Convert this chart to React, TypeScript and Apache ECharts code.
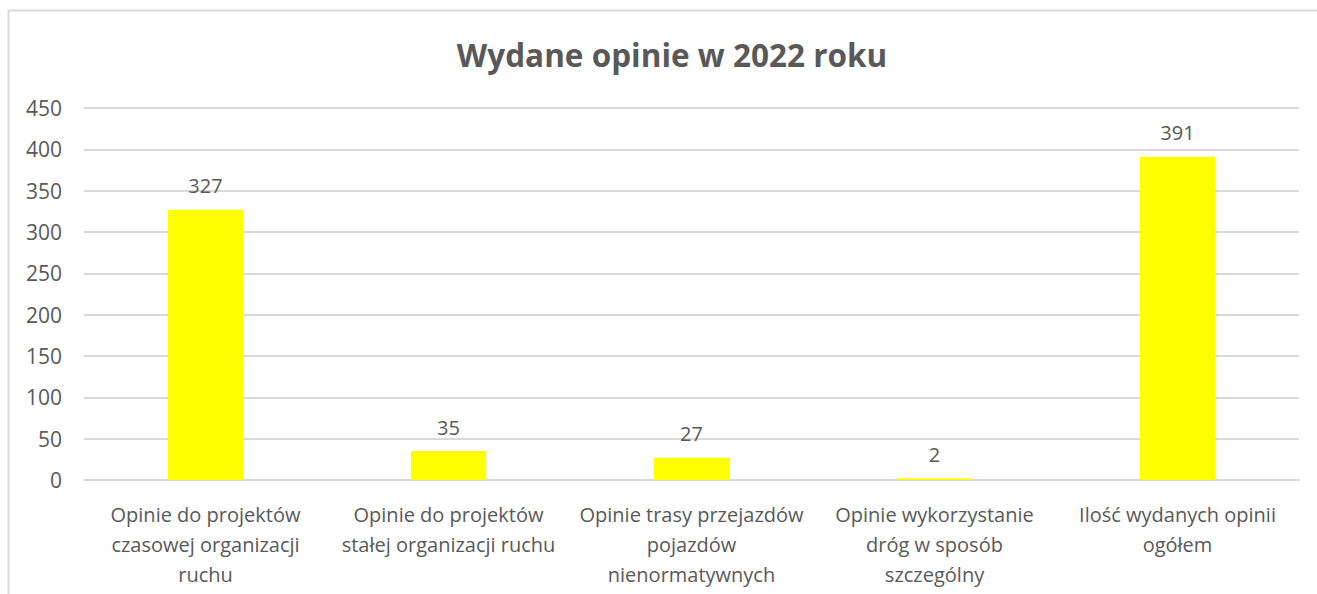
import React, { useEffect, useRef } from "react";
import * as echarts from "echarts";

const categories = [
  "Opinie do projektów\nczasowej organizacji\nruchu",
  "Opinie do projektów\nstałej organizacji ruchu",
  "Opinie trasy przejazdów\npojazdów\nnienormatywnych",
  "Opinie wykorzystanie\ndróg w sposób\nszczególny",
  "Ilość wydanych opinii\nogółem",
];
const values = [327, 35, 27, 2, 391];
const titleText = "Wydane opinie w 2022 roku";

const FONT = "'Open Sans', sans-serif";
const TEXT = "#595959";

export default function App() {
  const ref = useRef<HTMLDivElement>(null);
  useEffect(() => {
    if (!ref.current) return;
    const chart = echarts.init(ref.current, null, { renderer: "svg" });
    chart.setOption({
      animation: false,
      textStyle: { fontFamily: FONT },
      title: {
        text: titleText,
        left: 667,
        top: 33,
        textAlign: "center",
        textStyle: { fontFamily: FONT, fontSize: 31.5, fontWeight: "bold", color: TEXT },
      },
      graphic: [
        {
          type: "rect",
          silent: true,
          shape: { x: 8.5, y: 10.5, width: 1400, height: 700 },
          style: { fill: "none", stroke: "#d9d9d9", lineWidth: 2 },
        },
      ],
      grid: { left: 84, right: 18, top: 108, bottom: 114, containLabel: false },
      xAxis: {
        type: "category",
        data: categories,
        axisLine: { show: true, lineStyle: { color: "#d9d9d9", width: 2 } },
        axisTick: { show: false },
        axisLabel: {
          interval: 0,
          color: TEXT,
          fontFamily: FONT,
          fontSize: 20,
          lineHeight: 30,
          margin: 19,
        },
      },
      yAxis: {
        type: "value",
        min: 0,
        max: 450,
        interval: 50,
        axisLine: { show: false },
        axisTick: { show: false },
        splitLine: { lineStyle: { color: "#d9d9d9", width: 2 } },
        axisLabel: { color: TEXT, fontFamily: FONT, fontSize: 21, margin: 22 },
      },
      series: [
        {
          type: "bar",
          data: values,
          barWidth: "31%",
          itemStyle: { color: "#FFFF00" },
          label: {
            show: true,
            position: "top",
            distance: 14,
            color: TEXT,
            fontFamily: FONT,
            fontSize: 20,
          },
        },
      ],
    });
    return () => chart.dispose();
  }, []);
  return (
    <div
      ref={ref}
      style={{ position: "fixed", left: 0, top: 0, width: 1317, height: 594, background: "#fff" }}
    />
  );
}
